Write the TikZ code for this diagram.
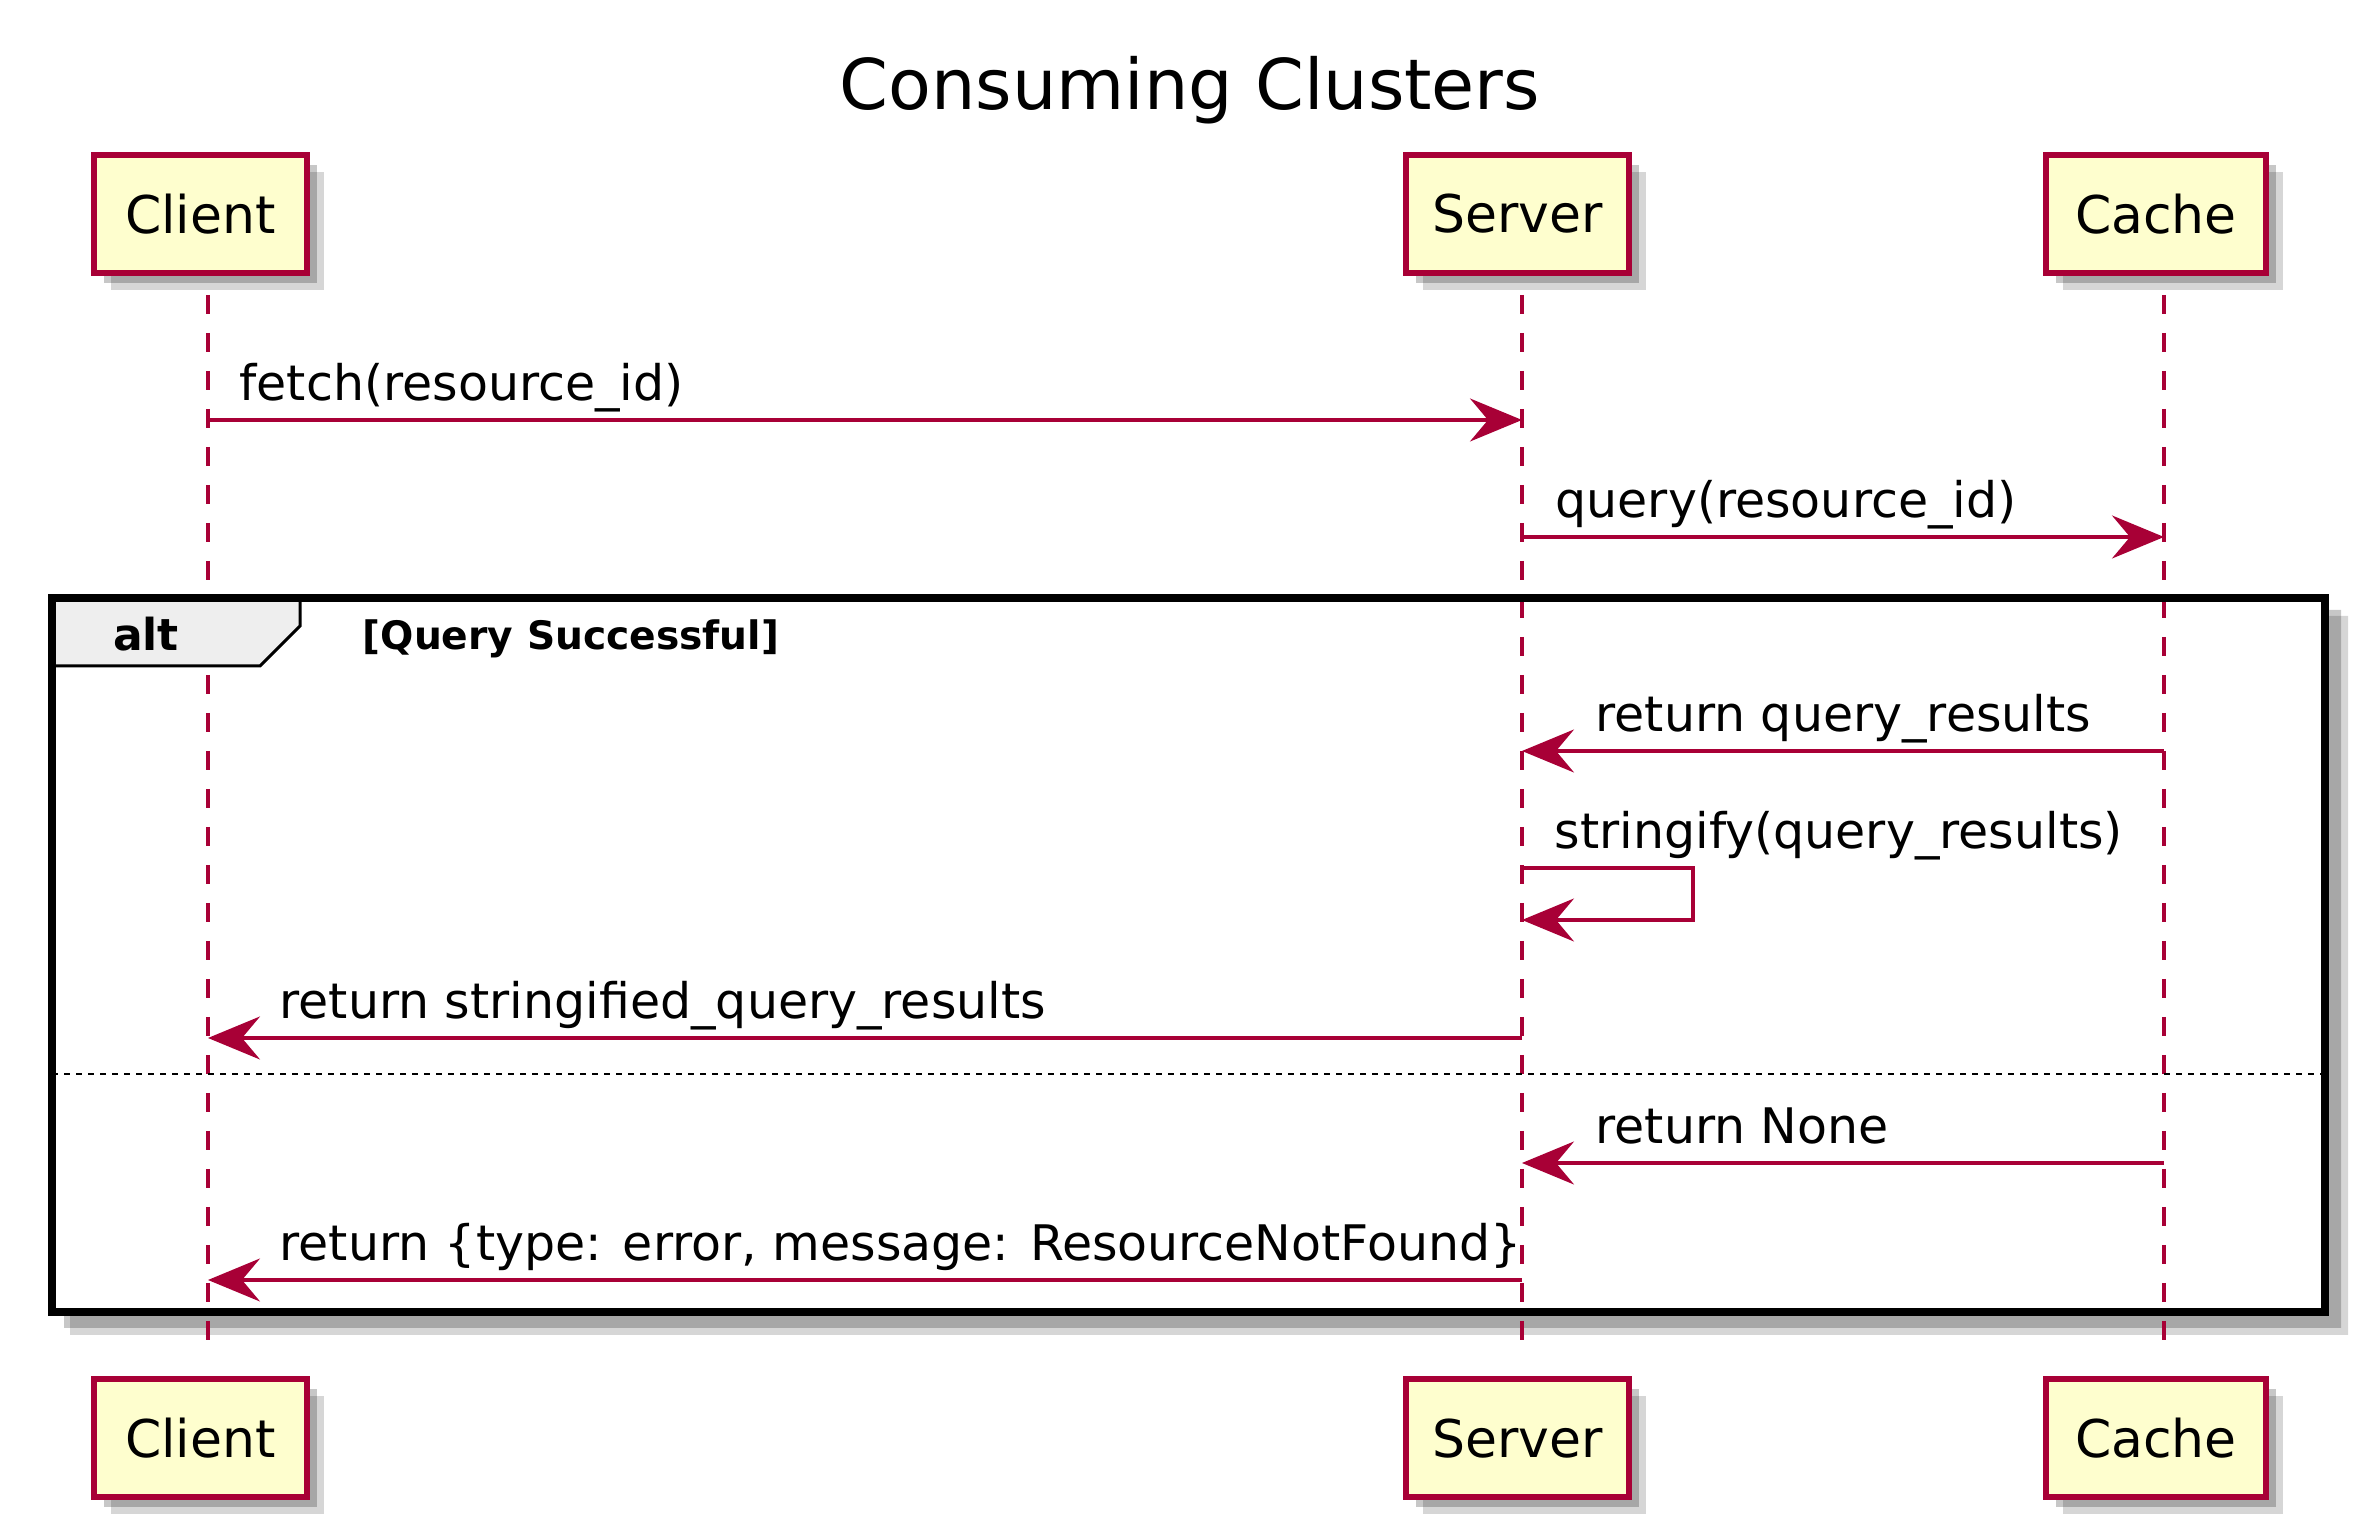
\documentclass[tikz,border=0pt]{standalone}
\usepackage{fontspec}
\setmainfont{DejaVu Sans}
\usetikzlibrary{arrows.meta,shadows}
\definecolor{umlred}{HTML}{A80036}
\definecolor{umlfill}{HTML}{FEFECE}
\definecolor{umltab}{HTML}{EEEEEE}

\begin{document}
\begin{tikzpicture}[x=0.25pt,y=-0.25pt,>={Stealth[length=13pt,width=10.75pt,inset=4.5pt]},
                    font=\fontsize{12.25}{14}\selectfont]
  \tikzstyle{actor}=[rectangle,draw=umlred,fill=umlfill,line width=1.5pt,inner sep=0pt,
                     minimum height=29.5pt,font=\fontsize{13}{15}\selectfont,
                     drop shadow={shadow xshift=2.5pt,shadow yshift=-2.5pt,fill=black,opacity=.22},
                     drop shadow={shadow xshift=4.25pt,shadow yshift=-4.25pt,fill=black,opacity=.16}]
  \tikzstyle{lifeline}=[umlred,line width=1pt,dash pattern=on 4.75pt off 4.75pt]
  \tikzstyle{msg}=[->,draw=umlred,line width=0.8pt]
  \tikzstyle{lbl}=[text=black,inner sep=0pt,anchor=base west,yshift=4.75pt]
  \tikzstyle{frame}=[draw=black,line width=2pt]

  \useasboundingbox (0,0) rectangle (2368,1538);

  \node[inner sep=0pt,outer sep=0pt,minimum width=568.25pt,minimum height=178.5pt] (alt) at (1188.5,955) {};
  % shadow of the alt frame
  \fill[black,opacity=.16] (2329,616) -- (2348,616) -- (2348,1335) -- (70,1335) -- (70,1316) -- (2329,1316) -- cycle;
  \fill[black,opacity=.22] (2329,610) -- (2341,610) -- (2341,1328) -- (64,1328) -- (64,1316) -- (2329,1316) -- cycle;

  \coordinate (clientL) at (208,295);   \coordinate (clientE) at (208,1352);
  \coordinate (serverL) at (1522,295);  \coordinate (serverE) at (1522,1352);
  \coordinate (cacheL)  at (2164,295);  \coordinate (cacheE)  at (2164,1352);
  \draw[lifeline] (clientL) -- (clientE);
  \draw[lifeline] (serverL) -- (serverE);
  \draw[lifeline] (cacheL) -- (cacheE);

  \coordinate (r1) at (0,420);  \coordinate (r2) at (0,537);
  \coordinate (r3) at (0,751);  \coordinate (r4) at (0,868);
  \coordinate (r4b) at (0,920); \coordinate (r5) at (0,1038);
  \coordinate (sep) at (0,1074);
  \coordinate (r6) at (0,1163); \coordinate (r7) at (0,1280);

  \draw[fill=umltab,line width=0.75pt] (alt.north west) -- ++(248,0) -- ++(0,28) -- ++(-40,40) -- ++(-208,0) -- cycle;
  \draw[frame] (alt.north west) rectangle (alt.south east);
  \node[font=\bfseries\fontsize{11}{13}\selectfont,anchor=base,inner sep=0pt] (altlbl) at (146,651) {alt};
  \node[font=\bfseries\fontsize{9.8}{12}\selectfont,anchor=base west,inner sep=0pt] (guard) at (362,650) {[Query Successful]};
  \draw[line width=0.6pt,dash pattern=on 1.5pt off 1.5pt] (alt.west |- sep) -- (alt.east |- sep);

  \node[font=\fontsize{17.5}{20}\selectfont,anchor=base,inner sep=0pt] (title) at (1190,110) {Consuming Clusters};

  \node[actor,minimum width=53.25pt] (client) at (200.5,214) {Client};
  \node[actor,minimum width=55.75pt] (server) at (1517.5,214) {Server};
  \node[actor,minimum width=55pt]    (cache) at (2156,214) {Cache};
  \node[actor,minimum width=53.25pt] (clientB) at (200.5,1438.5) {Client};
  \node[actor,minimum width=55.75pt] (serverB) at (1517.5,1438.5) {Server};
  \node[actor,minimum width=55pt]    (cacheB) at (2156,1438.5) {Cache};

  \path
(clientL |- r1) edge[msg] node[lbl,pos=0,xshift=7.5pt] {fetch(resource\_id)} (serverL |- r1)
(serverL |- r2) edge[msg] node[lbl,pos=0,xshift=8pt] {query(resource\_id)} (cacheL |- r2)
(cacheL |- r3)  edge[msg] node[lbl,pos=1,xshift=18pt] {return query\_results} (serverL |- r3)
(serverL |- r5) edge[msg] node[lbl,pos=1,xshift=17.5pt] {return stringified\_query\_results} (clientL |- r5)
(cacheL |- r6)  edge[msg] node[lbl,pos=1,xshift=18pt] {return None} (serverL |- r6)
(serverL |- r7) edge[msg] node[lbl,pos=1,xshift=17.5pt] {return \{type: error, message: ResourceNotFound\}} (clientL |- r7)
;
  \draw[msg] (serverL |- r4) -- ++(171,0) |- (serverL |- r4b);
  \node[lbl] (selflbl) at ([xshift=8pt]serverL |- r4) {stringify(query\_results)};

\end{tikzpicture}
\end{document}
